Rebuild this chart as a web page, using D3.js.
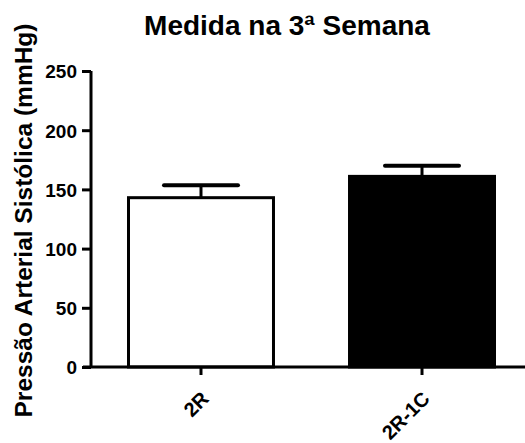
<!DOCTYPE html>
<html>
<head>
<meta charset="utf-8">
<script src="https://cdn.jsdelivr.net/npm/d3@7"></script>
<style>
  body { margin: 0; background: #fff; }
  text { font-family: "Liberation Sans", Arial, sans-serif; font-weight: bold; fill: #000; }
</style>
</head>
<body>
<svg id="chart" width="525" height="443"></svg>
<script>
// data
var groups = ["2R", "2R-1C"];
var means  = [143, 161];
var sems   = [10.5, 9];
var fills  = ["#fff", "#000"];
var yTicks = [0, 50, 100, 150, 200, 250];

var svg = d3.select("#chart");

var y = d3.scaleLinear().domain([0, 250]).range([367, 71]);
var x = d3.scaleBand().domain(groups).range([128.5, 494.5])
  .paddingInner(0.344).paddingOuter(0);

// title
svg.append("text")
  .attr("x", 287).attr("y", 35)
  .attr("text-anchor", "middle")
  .style("font-size", "28px")
  .text("Medida na 3ª Semana");

// y axis title
svg.append("text")
  .attr("transform", "translate(32,220.5) rotate(-90)")
  .attr("text-anchor", "middle")
  .style("font-size", "24.5px")
  .text("Pressão Arterial Sistólica (mmHg)");

// bars
svg.append("g")
  .selectAll("rect")
  .data(groups)
  .join("rect")
    .attr("x", d => x(d))
    .attr("y", (d, i) => y(means[i]))
    .attr("width", x.bandwidth())
    .attr("height", (d, i) => y(0) - y(means[i]))
    .attr("fill", (d, i) => fills[i])
    .attr("stroke", "#000")
    .attr("stroke-width", 3);

// error bars (upper only)
var eb = svg.append("g").attr("stroke", "#000");
eb.selectAll("line.v")
  .data(groups)
  .join("line")
    .attr("class", "v")
    .attr("x1", d => x(d) + x.bandwidth() / 2)
    .attr("x2", d => x(d) + x.bandwidth() / 2)
    .attr("y1", (d, i) => y(means[i]))
    .attr("y2", (d, i) => y(means[i] + sems[i]))
    .attr("stroke-width", 3);
eb.selectAll("line.cap")
  .data(groups)
  .join("line")
    .attr("class", "cap")
    .attr("x1", d => x(d) + x.bandwidth() / 2 - 37)
    .attr("x2", d => x(d) + x.bandwidth() / 2 + 37)
    .attr("y1", (d, i) => y(means[i] + sems[i]))
    .attr("y2", (d, i) => y(means[i] + sems[i]))
    .attr("stroke-width", 4)
    .attr("stroke-linecap", "round");

// y axis
var yAxis = svg.append("g")
  .attr("transform", "translate(91,0)")
  .call(d3.axisLeft(y).tickValues(yTicks).tickSize(9).tickPadding(5));
yAxis.select(".domain").attr("d", "M0," + y(250) + "V" + y(0)).attr("stroke-width", 3);
yAxis.selectAll(".tick line").attr("stroke-width", 3);
yAxis.selectAll(".tick text").style("font-size", "19px").attr("dy", "0.36em");

// x axis
var xAxis = svg.append("g")
  .attr("transform", "translate(0," + y(0) + ")")
  .call(d3.axisBottom(x).tickSize(8).tickPadding(10));
xAxis.select(".domain").attr("d", "M83,0H525").attr("stroke-width", 3);
xAxis.selectAll(".tick line").attr("stroke-width", 3);
xAxis.selectAll(".tick text")
  .style("font-size", "20px")
  .attr("text-anchor", "end")
  .attr("y", 0)
  .attr("dy", 0)
  .attr("transform", "translate(9,33) rotate(-45)");
</script>
</body>
</html>
